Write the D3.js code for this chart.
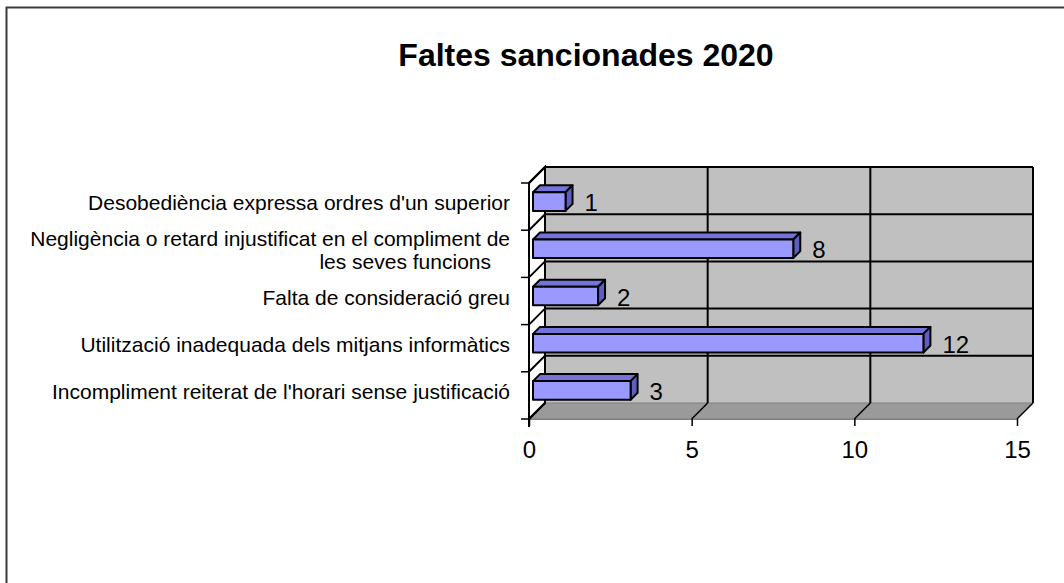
<!DOCTYPE html>
<html>
<head>
<meta charset="utf-8">
<script src="https://cdn.jsdelivr.net/npm/d3@7"></script>
<style>
  html, body { margin: 0; padding: 0; background: #fff; }
  svg { display: block; font-family: "Liberation Sans", Arial, sans-serif; }
</style>
</head>
<body>
<svg id="chart" width="1064" height="583"></svg>
<script>
const title = "Faltes sancionades 2020";
const categories = [
  "Desobediència expressa ordres d'un superior",
  "Negligència o retard injustificat en el compliment de les seves funcions",
  "Falta de consideració greu",
  "Utilització inadequada dels mitjans informàtics",
  "Incompliment reiterat de l'horari sense justificació"
];
const values = [1, 8, 2, 12, 3];
const xTicks = [0, 5, 10, 15];
const xDomain = [0, 15];

const svg = d3.select("#chart");
const X0 = 529, X1 = 1017, YT = 183, YB = 419, D = 16;
const x = d3.scaleLinear().domain(xDomain).range([X0, X1]);
const y = d3.scaleBand().domain(categories).range([YT, YB]).padding(0);
const bw = y.bandwidth();

// outer frame
svg.append("rect").attr("x", 6.5).attr("y", 7.5).attr("width", 1200).attr("height", 700)
  .attr("fill", "none").attr("stroke", "#3a3a3a").attr("stroke-width", 2);

// title
svg.append("text").attr("x", 586).attr("y", 66).attr("text-anchor", "middle")
  .attr("font-size", 32).attr("font-weight", "bold").attr("fill", "#000").text(title);

const P = (px, py, d) => [px + d, py - d];
const line = pts => "M" + pts.map(p => p.join(",")).join("L") + "Z";

// back wall
svg.append("rect").attr("x", x(0) + D).attr("y", YT - D).attr("width", x(15) - x(0)).attr("height", YB - YT)
  .attr("fill", "#c0c0c0");
// floor
svg.append("path").attr("d", line([[X0, YB], [X1, YB], P(X1, YB, D), P(X0, YB, D)]))
  .attr("fill", "#9a9a9a").attr("stroke", "#808080").attr("stroke-width", 1);
// left wall
svg.append("path").attr("d", line([[X0, YT], P(X0, YT, D), P(X0, YB, D), [X0, YB]]))
  .attr("fill", "#ffffff").attr("stroke", "#000").attr("stroke-width", 2);

// horizontal gridlines on back wall + diagonals on left wall
const bounds = categories.map(c => y(c)).concat([YB]);
bounds.forEach((b, i) => {
  if (i < bounds.length - 1) {
    svg.append("line").attr("x1", x(0) + D).attr("x2", x(15) + D).attr("y1", b - D).attr("y2", b - D)
      .attr("stroke", "#000").attr("stroke-width", 2);
  }
  svg.append("line").attr("x1", X0).attr("y1", b).attr("x2", X0 + D).attr("y2", b - D)
    .attr("stroke", "#000").attr("stroke-width", 2);
  // y ticks
  svg.append("line").attr("x1", X0 - 8).attr("x2", X0).attr("y1", b).attr("y2", b)
    .attr("stroke", "#000").attr("stroke-width", 1.5);
});
// vertical gridlines on back wall + floor diagonals
xTicks.forEach(t => {
  if (t > 0) {
    svg.append("line").attr("x1", x(t) + D).attr("x2", x(t) + D).attr("y1", YT - D).attr("y2", YB - D)
      .attr("stroke", "#000").attr("stroke-width", 2);
    svg.append("line").attr("x1", x(t)).attr("y1", YB).attr("x2", x(t) + D).attr("y2", YB - D)
      .attr("stroke", "#000").attr("stroke-width", 1.5);
  }
});
// left front edge
svg.append("line").attr("x1", X0).attr("x2", X0).attr("y1", YT).attr("y2", YB + 8)
  .attr("stroke", "#000").attr("stroke-width", 2);

// x axis
const xAxis = svg.append("g").attr("transform", `translate(0,${YB})`)
  .call(d3.axisBottom(x).tickValues(xTicks).tickSize(7).tickPadding(15).tickFormat(d3.format("d")));
xAxis.select(".domain").attr("stroke", "#808080");
xAxis.selectAll(".tick line").attr("stroke", "#000").attr("stroke-width", 1.5);
xAxis.selectAll(".tick text").attr("font-size", 24).attr("fill", "#000")
  .attr("font-family", "Liberation Sans, Arial, sans-serif");

// bars
const d0 = 4, bd = 7, bh = 18.6;
const bars = svg.append("g");
categories.forEach((c, i) => {
  const v = values[i];
  const yc = y(c) + bw / 2 - d0 - 1;
  const yTop = yc - bh / 2, yBot = yc + bh / 2;
  const xL = x(0) + d0, xR = x(v) + d0;
  const g = bars.append("g").attr("stroke", "#000").attr("stroke-width", 2).attr("stroke-linejoin", "round");
  g.append("path").attr("d", line([[xL, yTop], [xR, yTop], [xR + bd, yTop - bd], [xL + bd, yTop - bd]]))
    .attr("fill", "#7373d9");
  g.append("path").attr("d", line([[xR, yTop], [xR + bd, yTop - bd], [xR + bd, yBot - bd], [xR, yBot]]))
    .attr("fill", "#5f5fbf");
  g.append("rect").attr("x", xL).attr("y", yTop).attr("width", xR - xL).attr("height", bh)
    .attr("fill", "#9999ff");
  svg.append("text").attr("x", xR + bd + 12).attr("y", yc + 1).attr("dy", "0.36em")
    .attr("font-size", 24).attr("fill", "#000").text(v);
});

// category labels (wrapped)
const maxW = 495, fs = 21;
categories.forEach((c, i) => {
  const cy = y(c) + bw / 2 - 4;
  const t = svg.append("text").attr("font-size", fs).attr("fill", "#000").attr("text-anchor", "end");
  const words = c.split(" ");
  const lines = [];
  let cur = [];
  const probe = svg.append("text").attr("font-size", fs);
  words.forEach(w => {
    const test = cur.concat([w]).join(" ");
    probe.text(test);
    if (probe.node().getComputedTextLength() > maxW && cur.length) {
      lines.push(cur.join(" "));
      cur = [w];
    } else cur.push(w);
  });
  lines.push(cur.join(" "));
  probe.remove();
  const lh = 23;
  lines.forEach((l, k) => {
    t.append("tspan").attr("x", k === 0 ? 510 : 491)
      .attr("y", cy + (k - (lines.length - 1) / 2) * lh).attr("dy", "0.36em").text(l);
  });
});
</script>
</body>
</html>
